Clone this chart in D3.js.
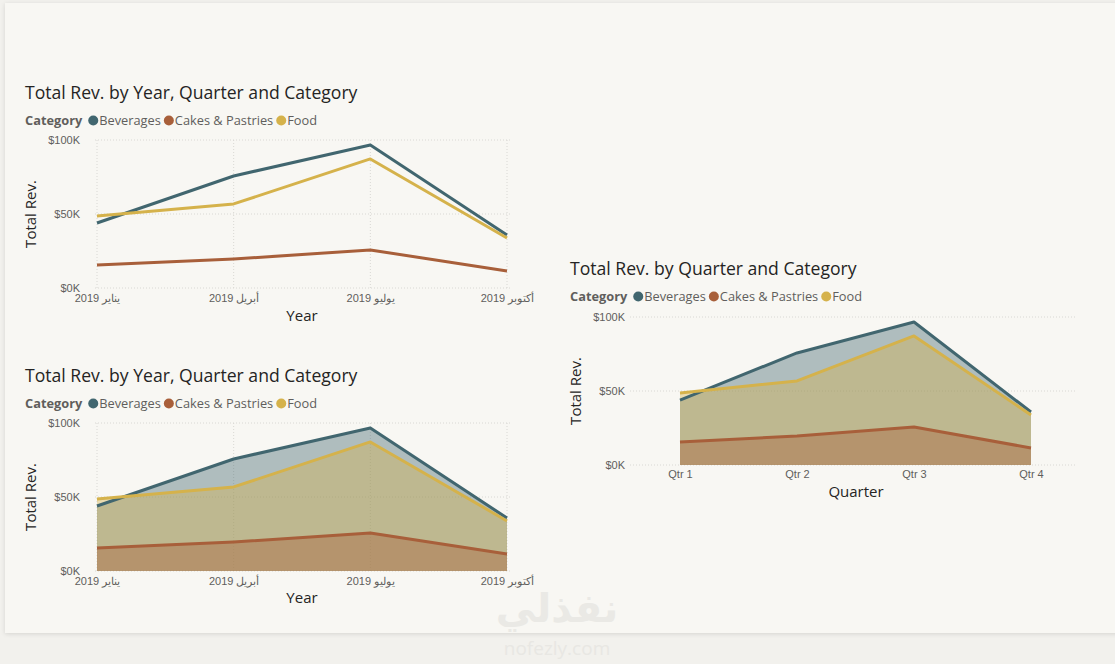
<!DOCTYPE html>
<html>
<head>
<meta charset="utf-8">
<script src="https://cdn.jsdelivr.net/npm/d3@7"></script>
<style>
  html, body { margin: 0; padding: 0; background: #f2f1ed; }
  svg { display: block; font-family: "Segoe UI", "Open Sans", "Noto Sans", "DejaVu Sans", sans-serif; }
</style>
</head>
<body>
<svg id="chart" width="1115" height="664"></svg>
<script>
// data (thousands of dollars)
var quarters = ["Qtr 1", "Qtr 2", "Qtr 3", "Qtr 4"];
var monthLabels = ["يناير 2019", "أبريل 2019", "يوليو 2019", "أكتوبر 2019"];
var categories = ["Beverages", "Cakes & Pastries", "Food"];
var beverages = [43.9, 75.7, 96.6, 35.8];
var cakes = [15.5, 19.6, 25.7, 11.5];
var food = [48.6, 56.8, 87.2, 33.8];
var yTicks = [0, 50, 100];

var colors = { "Beverages": "#41666f", "Cakes & Pastries": "#a85f3a", "Food": "#d5b24b" };
var seriesList = [
    { name: "Beverages", values: beverages },
    { name: "Food", values: food },
    { name: "Cakes & Pastries", values: cakes }
];

var svg = d3.select("#chart");

// report card with a faint shadow
var defs = svg.append("defs");
var f = defs.append("filter").attr("id", "shadow").attr("x", "-5%").attr("y", "-5%").attr("width", "110%").attr("height", "110%");
f.append("feDropShadow").attr("dx", 0).attr("dy", 1).attr("stdDeviation", 2).attr("flood-color", "#000").attr("flood-opacity", 0.12);
svg.append("rect")
    .attr("x", 5).attr("y", 3).attr("width", 1130).attr("height", 630)
    .attr("fill", "#f8f7f3").attr("filter", "url(#shadow)");

// watermark
svg.append("text").attr("x", 557).attr("y", 622).attr("text-anchor", "middle")
    .attr("font-size", 40).attr("font-weight", "bold").attr("fill", "#eae9e5")
    .attr("font-family", "DejaVu Sans, sans-serif").text("نفذلي");
svg.append("text").attr("x", 557).attr("y", 655).attr("text-anchor", "middle")
    .attr("font-size", 19).attr("fill", "#e8e7e3").attr("font-family", "Open Sans, sans-serif").text("nofezly.com");

function drawChart(cfg) {
    var g = svg.append("g");
    var x = d3.scalePoint().domain(d3.range(4)).range([cfg.x0, cfg.x1]);
    var y = d3.scaleLinear().domain([0, 100]).range([cfg.yBottom, cfg.yTop]);

    // title
    g.append("text").attr("x", cfg.left).attr("y", cfg.titleY)
        .attr("font-size", 17.6).attr("fill", "#252423")
        .text(cfg.title);

    // legend
    var lg = g.append("g").attr("transform", "translate(" + cfg.left + "," + cfg.legendY + ")");
    var lx = 0;
    var head = lg.append("text").attr("x", 0).attr("y", 0).attr("font-size", 12.8)
        .attr("font-weight", "bold").attr("fill", "#605e5c").text("Category");
    lx = head.node().getComputedTextLength() + 11;
    categories.forEach(function(c) {
        lg.append("circle").attr("cx", lx).attr("cy", -4.5).attr("r", 5).attr("fill", colors[c]);
        var t = lg.append("text").attr("x", lx + 6).attr("y", 0).attr("font-size", 12.8)
            .attr("fill", "#605e5c").text(c);
        lx += 6 + t.node().getComputedTextLength() + 8;
    });

    // gridlines
    g.append("g").selectAll("line").data(yTicks).enter().append("line")
        .attr("x1", cfg.gx0).attr("x2", cfg.gx1)
        .attr("y1", function(d) { return y(d); }).attr("y2", function(d) { return y(d); })
        .attr("stroke", "#d9d8d4").attr("stroke-width", 1).attr("stroke-dasharray", "1,2");
    if (cfg.vgrid) {
        g.append("g").selectAll("line").data(d3.range(4)).enter().append("line")
            .attr("x1", function(d) { return x(d); }).attr("x2", function(d) { return x(d); })
            .attr("y1", cfg.yTop).attr("y2", cfg.yBottom)
            .attr("stroke", "#d9d8d4").attr("stroke-width", 1).attr("stroke-dasharray", "1,2");
    }

    // y axis labels
    var yAxis = d3.axisLeft(y).tickValues(yTicks).tickSize(0).tickPadding(0)
        .tickFormat(function(d) { return "$" + d + "K"; });
    var ya = g.append("g").attr("transform", "translate(" + cfg.yLabelX + ",0)").call(yAxis);
    ya.select(".domain").remove();
    ya.selectAll("text").attr("font-size", 11).attr("fill", "#605e5c").attr("font-family", null)
        .attr("dy", "0.3em");

    // x axis labels
    var xAxis = d3.axisBottom(x).tickSize(0).tickPadding(0)
        .tickFormat(function(d) { return cfg.xLabels[d]; });
    var xa = g.append("g").attr("transform", "translate(0," + cfg.xLabelY + ")").call(xAxis);
    xa.select(".domain").remove();
    xa.selectAll("text").attr("font-size", 11).attr("fill", "#605e5c").attr("font-family", null)
        .attr("dy", "0.71em");

    // axis titles
    g.append("text").attr("x", cfg.xTitleX).attr("y", cfg.xTitleY).attr("text-anchor", "middle")
        .attr("font-size", 15).attr("fill", "#252423").text(cfg.xTitle);
    g.append("text").attr("transform", "translate(" + cfg.yTitleX + "," + ((cfg.yTop + cfg.yBottom) / 2) + ") rotate(-90)")
        .attr("text-anchor", "middle").attr("font-size", 15).attr("fill", "#252423").text("Total Rev.");

    // marks
    var line = d3.line().x(function(d, i) { return x(i); }).y(function(d) { return y(d); });
    var area = d3.area().x(function(d, i) { return x(i); }).y0(y(0)).y1(function(d) { return y(d); });
    if (cfg.area) {
        seriesList.forEach(function(s) {
            g.append("path").datum(s.values).attr("d", area)
                .attr("fill", colors[s.name]).attr("fill-opacity", 0.4);
        });
    }
    seriesList.forEach(function(s) {
        g.append("path").datum(s.values).attr("d", line)
            .attr("fill", "none").attr("stroke", colors[s.name]).attr("stroke-width", 3)
            .attr("stroke-linejoin", "round");
    });
}

drawChart({
    title: "Total Rev. by Year, Quarter and Category", left: 25, titleY: 99, legendY: 125,
    x0: 97, x1: 507, yTop: 140, yBottom: 288, gx0: 95, gx1: 512, vgrid: true,
    yLabelX: 80, xLabelY: 294, xLabels: monthLabels, xTitle: "Year", xTitleX: 302, xTitleY: 321,
    yTitleX: 36, area: false
});
drawChart({
    title: "Total Rev. by Year, Quarter and Category", left: 25, titleY: 382, legendY: 408,
    x0: 97, x1: 507, yTop: 423, yBottom: 571, gx0: 95, gx1: 512, vgrid: true,
    yLabelX: 80, xLabelY: 577, xLabels: monthLabels, xTitle: "Year", xTitleX: 302, xTitleY: 603,
    yTitleX: 36, area: true
});
drawChart({
    title: "Total Rev. by Quarter and Category", left: 570, titleY: 275, legendY: 301,
    x0: 680, x1: 1031, yTop: 317, yBottom: 465, gx0: 630, gx1: 1075, vgrid: false,
    yLabelX: 625, xLabelY: 470, xLabels: quarters, xTitle: "Quarter", xTitleX: 856, xTitleY: 497,
    yTitleX: 581, area: true
});
</script>
</body>
</html>
